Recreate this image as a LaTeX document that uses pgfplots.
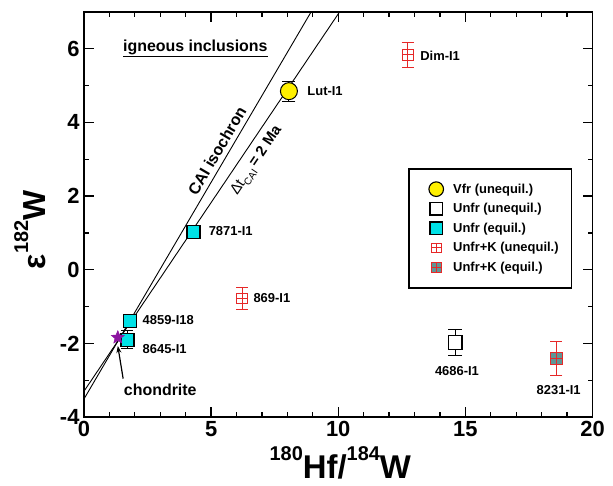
\documentclass[border=0pt]{standalone}
\usepackage{fontspec}
\setmainfont{Liberation Sans}
\usepackage{pgfplots}
\pgfplotsset{compat=1.18}
\usetikzlibrary{arrows.meta}
\definecolor{ycol}{RGB}{255,240,0}
\definecolor{ccol}{RGB}{0,225,230}
\definecolor{rcol}{RGB}{230,40,40}
\definecolor{gcol}{RGB}{95,150,150}
\definecolor{pcol}{RGB}{140,20,160}
\pgfdeclareplotmark{sqplus}{%
  \pgfpathrectangle{\pgfpoint{-\pgfplotmarksize}{-\pgfplotmarksize}}{\pgfpoint{2\pgfplotmarksize}{2\pgfplotmarksize}}%
  \pgfusepathqfillstroke
  \pgfpathmoveto{\pgfpoint{-\pgfplotmarksize}{0pt}}\pgfpathlineto{\pgfpoint{\pgfplotmarksize}{0pt}}%
  \pgfpathmoveto{\pgfpoint{0pt}{-\pgfplotmarksize}}\pgfpathlineto{\pgfpoint{0pt}{\pgfplotmarksize}}%
  \pgfusepathqstroke}
\pgfdeclareplotmark{fstar}{%
  \pgfpathmoveto{\pgfpointpolar{90}{\pgfplotmarksize}}%
  \pgfpathlineto{\pgfpointpolar{126}{0.45\pgfplotmarksize}}%
  \pgfpathlineto{\pgfpointpolar{162}{\pgfplotmarksize}}%
  \pgfpathlineto{\pgfpointpolar{198}{0.45\pgfplotmarksize}}%
  \pgfpathlineto{\pgfpointpolar{234}{\pgfplotmarksize}}%
  \pgfpathlineto{\pgfpointpolar{270}{0.45\pgfplotmarksize}}%
  \pgfpathlineto{\pgfpointpolar{306}{\pgfplotmarksize}}%
  \pgfpathlineto{\pgfpointpolar{342}{0.45\pgfplotmarksize}}%
  \pgfpathlineto{\pgfpointpolar{18}{\pgfplotmarksize}}%
  \pgfpathlineto{\pgfpointpolar{54}{0.45\pgfplotmarksize}}%
  \pgfpathclose\pgfusepathqfillstroke}
\begin{document}
\begin{tikzpicture}
\path[use as bounding box] (-84bp,-69bp) rectangle (529bp,417bp);
\begin{axis}[at={(0,0)}, anchor=south west, scale only axis,
  width=508.5bp, height=405bp,
  xmin=0, xmax=20, ymin=-4, ymax=7,
  xtick={0,5,10,15,20}, minor x tick num=4,
  ytick={-4,-2,0,2,4,6}, yticklabels={-4,-2,0,2,4,6}, minor y tick num=1,
  xticklabels={0,5,10,15,20},
  tick align=inside, major tick length=10bp, minor tick length=5bp,
  every tick/.style={black, line width=1.3bp},
  axis line style={line width=1.8bp},
  ticklabel style={font=\fontsize{22}{24}\selectfont\bfseries},
  xticklabel style={yshift=-1bp},
  yticklabel style={xshift=-1bp},
  xlabel={\fontsize{33}{33}\selectfont\bfseries\raisebox{0.55em}{\fontsize{20}{20}\selectfont 180}Hf/\raisebox{0.55em}{\fontsize{20}{20}\selectfont 184}W},
  xlabel style={at={(axis description cs:0.504,-0.113)}, anchor=center},
  ylabel={\fontsize{32}{32}\selectfont\bfseries ε\raisebox{0.55em}{\fontsize{20}{20}\selectfont 182}W},
  ylabel style={at={(axis description cs:-0.106,0.462)}, anchor=center, rotate=0},
  clip=true,
  legend image code/.code={\path[draw=none, fill=none] (0bp,0bp) -- (24bp,0bp); \draw[#1] plot coordinates {(16bp,0bp)};},
  legend style={at={(0.638,0.615)}, anchor=north west, draw=black, line width=1.6bp,
    font=\fontsize{13}{15}\selectfont\bfseries, inner xsep=11bp, inner ysep=13bp,
    row sep=4.7bp, cells={anchor=west},
    /tikz/every odd column/.append style={column sep=7bp}},
  legend cell align=left,
]
% Vfr (unequil.)
\addplot[forget plot, only marks, mark=*, mark size=8.5bp, mark options={fill=ycol, draw=black, line width=1bp},
  error bars/.cd, y dir=both, y explicit,
  error bar style={black, line width=1bp}, error mark options={rotate=90, mark size=6.5bp, line width=1bp}]
  table[y error=e] {
  x y e
  8.06 4.85 0.27
  };
% Unfr (unequil.)
\addplot[forget plot, only marks, mark=square*, mark size=6.8bp, mark options={fill=white, draw=black, line width=1.2bp},
  error bars/.cd, y dir=both, y explicit,
  error bar style={black, line width=1.2bp}, error mark options={rotate=90, mark size=7bp, line width=1.2bp}]
  table[y error=e] {
  x y e
  14.60 -1.98 0.36
  };
% Unfr (equil.)
\addplot[forget plot, only marks, mark=square*, mark size=6.5bp, mark options={fill=ccol, draw=black, line width=1.2bp},
  error bars/.cd, y dir=both, y explicit,
  error bar style={black, line width=1bp}, error mark options={rotate=90, mark size=6bp, line width=1bp}]
  table[y error=e] {
  x y e
  4.31 1.03 0.10
  1.80 -1.39 0.10
  1.71 -1.90 0.25
  };
% Unfr+K (unequil.)
\addplot[forget plot, only marks, mark=sqplus, mark size=5.4bp, mark options={fill=white, draw=rcol, line width=1bp},
  error bars/.cd, y dir=both, y explicit,
  error bar style={rcol, line width=1bp}, error mark options={rotate=90, mark size=6bp, line width=1bp}]
  table[y error=e] {
  x y e
  12.73 5.84 0.34
  6.22 -0.78 0.29
  };
% Unfr+K (equil.)
\addplot[forget plot, only marks, mark=sqplus, mark size=6.3bp, mark options={fill=gcol, draw=rcol, line width=1bp},
  error bars/.cd, y dir=both, y explicit,
  error bar style={rcol, line width=1bp}, error mark options={rotate=90, mark size=6bp, line width=1bp}]
  table[y error=e] {
  x y e
  18.58 -2.41 0.45
  };
% isochrons
\addplot[black, line width=0.9bp, forget plot] coordinates {(0,-3.51) (8.93,7)};
\addplot[black, line width=0.9bp, forget plot] coordinates {(0,-3.30) (10.05,7)};
% chondrite
\addplot[only marks, mark=fstar, mark size=6.8bp, mark options={fill=pcol, draw=pcol, line width=0.5bp}, forget plot]
  coordinates {(1.33,-1.84)};
% legend
\addlegendimage{only marks, mark=*, mark size=7.3bp, mark options={fill=ycol, draw=black, line width=1.1bp}}
\addlegendentry{Vfr (unequil.)}
\addlegendimage{only marks, mark=square*, mark size=6.3bp, mark options={fill=white, draw=black, line width=1.2bp}}
\addlegendentry{Unfr (unequil.)}
\addlegendimage{only marks, mark=square*, mark size=6.3bp, mark options={fill=ccol, draw=black, line width=1.2bp}}
\addlegendentry{Unfr (equil.)}
\addlegendimage{only marks, mark=sqplus, mark size=4.8bp, mark options={fill=white, draw=rcol, line width=1bp}}
\addlegendentry{Unfr+K (unequil.)}
\addlegendimage{only marks, mark=sqplus, mark size=4.8bp, mark options={fill=gcol, draw=rcol, line width=1bp}}
\addlegendentry{Unfr+K (equil.)}
% labels
\begin{scope}[every node/.style={font=\fontsize{13}{15}\selectfont\bfseries, inner sep=0pt}]
\node[anchor=west] at (axis cs:8.78,4.85) {Lut-I1};
\node[anchor=west] at (axis cs:13.22,5.82) {Dim-I1};
\node[anchor=west] at (axis cs:4.90,1.05) {7871-I1};
\node[anchor=west] at (axis cs:6.66,-0.78) {869-I1};
\node[anchor=west] at (axis cs:2.30,-1.37) {4859-I18};
\node[anchor=west] at (axis cs:2.30,-2.16) {8645-I1};
\node[anchor=center] at (axis cs:14.67,-2.74) {4686-I1};
\node[anchor=center] at (axis cs:18.67,-3.28) {8231-I1};
\end{scope}
\node[font=\fontsize{16}{18}\selectfont\bfseries, inner sep=0pt] at (axis cs:3.0,-3.25) {chondrite};
\draw[-{Stealth[length=7bp,width=5bp]}, line width=1.2bp] (axis cs:1.54,-2.96) -- (axis cs:1.33,-2.07);
\node[font=\fontsize{16}{18}\selectfont\bfseries, inner sep=0pt] at (axis cs:4.38,6.01) {\underline{igneous inclusions}};
\node[font=\fontsize{16}{18}\selectfont\bfseries, inner sep=0pt, rotate=59.6] at (axis cs:5.23,3.23) {CAI isochron};
\node[font=\fontsize{15}{17}\selectfont, inner sep=0pt, rotate=56.0] at (axis cs:6.81,2.96) {Δt\raisebox{-0.3em}{\fontsize{10}{10}\selectfont CAI}\,\textbf{= 2 Ma}};
\end{axis}
\end{tikzpicture}
\end{document}
